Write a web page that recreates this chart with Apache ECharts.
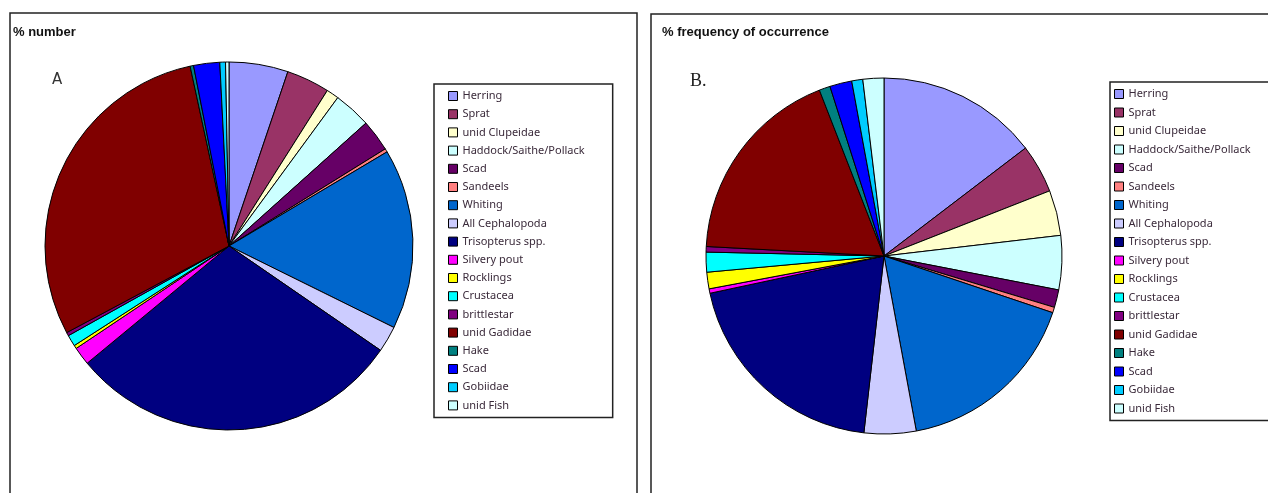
<!DOCTYPE html>
<html>
<head>
<meta charset="utf-8">
<script src="https://cdn.jsdelivr.net/npm/echarts@6/dist/echarts.min.js"></script>
<style>
html, body { margin: 0; padding: 0; background: #fff; }
#main { width: 1268px; height: 493px; }
</style>
</head>
<body>
<div id="main"></div>
<script>
// prey categories (same order in both pies)
var categories = ['Herring', 'Sprat', 'unid Clupeidae', 'Haddock/Saithe/Pollack', 'Scad',
    'Sandeels', 'Whiting', 'All Cephalopoda', 'Trisopterus spp.', 'Silvery pout',
    'Rocklings', 'Crustacea', 'brittlestar', 'unid Gadidae', 'Hake', 'Scad',
    'Gobiidae', 'unid Fish'];

// A: % number
var pctNumber = [5.2, 3.8, 1.1, 3.3, 2.8, 0.3, 15.9, 2.3, 29.5, 1.6, 0.3, 1.0, 0.3, 29.5, 0.3, 2.3, 0.5, 0.3];

// B: % frequency of occurrence
var pctFreq = [14.6, 4.4, 4.1, 4.9, 1.6, 0.5, 16.9, 4.7, 19.8, 0.4, 1.5, 1.8, 0.5, 18.2, 1.0, 2.0, 1.0, 1.9];

var colors = ['#9999FF', '#993366', '#FFFFCC', '#CCFFFF', '#660066', '#FF8080', '#0066CC',
    '#CCCCFF', '#000080', '#FF00FF', '#FFFF00', '#00FFFF', '#800080', '#800000',
    '#008080', '#0000FF', '#00CCFF', '#CCFFFF'];

var myChart = echarts.init(document.getElementById('main'));

// names are indexes so the two "Scad" entries stay separate
function makeData(values) {
    return values.map(function (v, i) {
        return { name: 'k' + i, value: v, itemStyle: { color: colors[i] } };
    });
}
var keys = categories.map(function (c, i) { return 'k' + i; });

function legendLabel(name) {
    return categories[parseInt(name.slice(1), 10)];
}

var legendText = {
    fontFamily: '"Comic Sans MS", "Noto Sans", sans-serif',
    fontSize: 11,
    lineHeight: 12,
    color: '#3a2a3a'
};

var option = {
    backgroundColor: '#fff',
    animation: false,
    graphic: [
        { type: 'rect', shape: { x: 10, y: 13, width: 627, height: 500 },
          style: { fill: 'none', stroke: '#222', lineWidth: 1.5 } },
        { type: 'rect', shape: { x: 651, y: 14, width: 640, height: 500 },
          style: { fill: 'none', stroke: '#222', lineWidth: 1.5 } },
        { type: 'text', left: 13, top: 26,
          style: { text: '% number', font: 'bold 13px "Liberation Sans", Arial, sans-serif', fill: '#111' } },
        { type: 'text', left: 662, top: 26,
          style: { text: '% frequency of occurrence', font: 'bold 13px "Liberation Sans", Arial, sans-serif', fill: '#111' } },
        { type: 'text', left: 52, top: 73,
          style: { text: 'A', font: '15px "DejaVu Sans", sans-serif', fill: '#333' } },
        { type: 'text', left: 690, top: 72,
          style: { text: 'B.', font: '18px "Liberation Serif", "Times New Roman", serif', fill: '#222' } }
    ],
    legend: [
        {
            data: keys,
            orient: 'vertical',
            left: 434, top: 84,
            padding: [6, 28, 6, 14],
            borderColor: '#222', borderWidth: 1.5,
            itemWidth: 9, itemHeight: 9, itemGap: 6.2,
            icon: 'rect',
            itemStyle: { borderColor: '#000', borderWidth: 1 },
            formatter: legendLabel,
            textStyle: legendText,
            selectedMode: false
        },
        {
            data: keys,
            orient: 'vertical',
            left: 1110, top: 82,
            padding: [6, 30, 6, 4],
            borderColor: '#222', borderWidth: 1.5,
            itemWidth: 9, itemHeight: 9, itemGap: 6.5,
            icon: 'rect',
            itemStyle: { borderColor: '#000', borderWidth: 1 },
            formatter: legendLabel,
            textStyle: legendText,
            selectedMode: false
        }
    ],
    series: [
        {
            type: 'pie',
            center: [229, 246],
            radius: 184,
            startAngle: 90,
            clockwise: true,
            label: { show: false },
            labelLine: { show: false },
            itemStyle: { borderColor: '#000', borderWidth: 1 },
            emphasis: { disabled: true },
            data: makeData(pctNumber)
        },
        {
            type: 'pie',
            legendIndex: 1,
            center: [884, 256],
            radius: 178,
            startAngle: 90,
            clockwise: true,
            label: { show: false },
            labelLine: { show: false },
            itemStyle: { borderColor: '#000', borderWidth: 1 },
            emphasis: { disabled: true },
            data: makeData(pctFreq)
        }
    ]
};

myChart.setOption(option);
</script>
</body>
</html>
